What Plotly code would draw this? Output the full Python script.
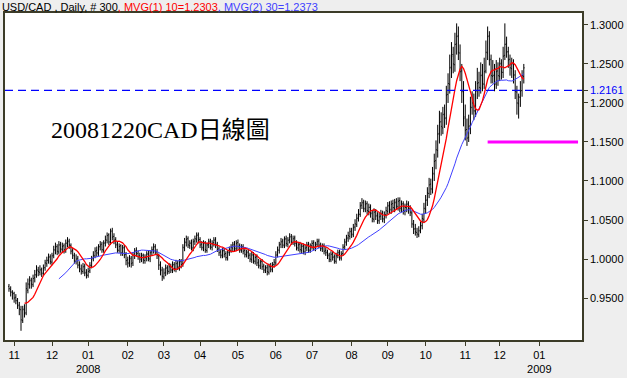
import pandas as pd
import plotly.graph_objects as go

# ---------------- data ----------------
START_DATE = "2007-10-29"          # first daily bar
PAIR = "USD/CAD"
HLINE_LEVEL = 1.2161               # blue dashed reference line
TARGET_LEVEL = 1.15                # magenta target line
TARGET_FROM_BAR = 278              # bar index where magenta line starts
MA_FAST = 10
MA_SLOW = 30
NOTE = "20081220CAD日線圖"
Y_TICKS = [0.95, 1.00, 1.05, 1.10, 1.15, 1.20, 1.25, 1.30]

open_ = [
    0.965, 0.961, 0.957, 0.956, 0.951, 0.946, 0.941, 0.935, 0.921, 0.936,
    0.931, 0.960, 0.967, 0.973, 0.967, 0.976, 0.979, 0.986, 0.983, 0.987,
    0.981, 0.989, 0.994, 0.999, 1.003, 0.996, 1.005, 1.011, 1.016, 1.009,
    1.019, 1.012, 1.017, 1.011, 1.021, 1.023, 1.017, 1.011, 1.004, 0.997,
    1.001, 0.993, 0.987, 0.984, 0.991, 0.983, 0.979, 0.985, 0.991, 1.001,
    1.004, 1.011, 1.007, 1.016, 1.019, 1.011, 1.021, 1.024, 1.031, 1.021,
    1.036, 1.029, 1.025, 1.019, 1.011, 1.017, 1.007, 1.015, 1.006, 0.999,
    0.994, 1.001, 0.995, 1.004, 1.011, 1.007, 1.004, 0.999, 1.005, 0.998,
    1.001, 1.007, 1.000, 1.009, 1.011, 1.016, 1.009, 1.004, 0.993, 0.986,
    0.977, 0.983, 0.989, 0.984, 0.991, 0.985, 0.993, 0.987, 0.995, 0.989,
    0.997, 0.994, 1.014, 1.021, 1.026, 1.017, 1.021, 1.014, 1.023, 1.025,
    1.031, 1.025, 1.019, 1.014, 1.021, 1.011, 1.019, 1.023, 1.015, 1.021,
    1.025, 1.019, 1.013, 1.009, 1.004, 1.011, 1.007, 1.001, 1.009, 1.011,
    1.014, 1.019, 1.013, 1.021, 1.017, 1.011, 1.016, 1.011, 1.005, 1.009,
    1.005, 0.999, 1.006, 0.997, 1.003, 0.996, 0.991, 0.997, 0.991, 0.985,
    0.989, 0.983, 0.991, 0.986, 0.993, 0.995, 1.006, 1.011, 1.019, 1.023,
    1.017, 1.026, 1.019, 1.025, 1.029, 1.021, 1.027, 1.021, 1.014, 1.019,
    1.011, 1.017, 1.009, 1.015, 1.019, 1.011, 1.017, 1.021, 1.014, 1.019,
    1.023, 1.017, 1.013, 1.017, 1.011, 1.009, 1.005, 0.999, 1.007, 1.003,
    0.997, 1.005, 1.009, 1.001, 1.007, 1.016, 1.021, 1.027, 1.029, 1.036,
    1.031, 1.041, 1.044, 1.053, 1.057, 1.069, 1.073, 1.064, 1.071, 1.061,
    1.067, 1.059, 1.051, 1.061, 1.056, 1.049, 1.055, 1.059, 1.051, 1.057,
    1.061, 1.069, 1.063, 1.071, 1.065, 1.073, 1.067, 1.075, 1.064, 1.071,
    1.061, 1.067, 1.071, 1.065, 1.059, 1.044, 1.039, 1.034, 1.031, 1.037,
    1.043, 1.051, 1.064, 1.076, 1.084, 1.096, 1.089, 1.109, 1.126, 1.139,
    1.161, 1.176, 1.168, 1.186, 1.181, 1.211, 1.224, 1.246, 1.262, 1.249,
    1.276, 1.286, 1.264, 1.241, 1.214, 1.182, 1.166, 1.156, 1.171, 1.194,
    1.201, 1.189, 1.216, 1.226, 1.219, 1.236, 1.224, 1.241, 1.264, 1.286,
    1.256, 1.234, 1.236, 1.224, 1.241, 1.234, 1.251, 1.239, 1.261, 1.276,
    1.266, 1.256, 1.244, 1.251, 1.236, 1.214, 1.199, 1.207, 1.216, 1.234,
]
high = [
    0.968, 0.965, 0.960, 0.958, 0.955, 0.950, 0.945, 0.940, 0.940, 0.942,
    0.970, 0.975, 0.978, 0.976, 0.980, 0.986, 0.992, 0.990, 0.992, 0.989,
    0.993, 0.999, 1.003, 1.007, 1.006, 1.008, 1.017, 1.021, 1.019, 1.023,
    1.022, 1.021, 1.020, 1.025, 1.028, 1.026, 1.020, 1.014, 1.008, 1.006,
    1.004, 0.997, 0.993, 0.995, 0.994, 0.987, 0.989, 0.996, 1.004, 1.010,
    1.015, 1.016, 1.019, 1.023, 1.022, 1.024, 1.030, 1.034, 1.033, 1.039,
    1.040, 1.033, 1.028, 1.022, 1.020, 1.019, 1.018, 1.018, 1.009, 1.003,
    1.005, 1.004, 1.009, 1.014, 1.015, 1.011, 1.008, 1.008, 1.007, 1.006,
    1.010, 1.011, 1.011, 1.016, 1.020, 1.019, 1.013, 1.007, 0.997, 0.990,
    0.988, 0.993, 0.992, 0.995, 0.994, 0.997, 0.996, 0.999, 0.998, 1.000,
    1.000, 1.019, 1.027, 1.030, 1.029, 1.024, 1.025, 1.026, 1.030, 1.034,
    1.034, 1.028, 1.023, 1.024, 1.023, 1.021, 1.026, 1.026, 1.024, 1.028,
    1.028, 1.022, 1.016, 1.012, 1.014, 1.014, 1.010, 1.011, 1.016, 1.019,
    1.022, 1.023, 1.024, 1.025, 1.020, 1.019, 1.019, 1.014, 1.012, 1.012,
    1.008, 1.009, 1.009, 1.005, 1.006, 1.000, 0.999, 1.000, 0.994, 0.992,
    0.993, 0.994, 0.995, 0.996, 1.000, 1.010, 1.016, 1.022, 1.027, 1.026,
    1.029, 1.030, 1.028, 1.033, 1.032, 1.030, 1.030, 1.024, 1.022, 1.022,
    1.020, 1.020, 1.018, 1.022, 1.022, 1.020, 1.024, 1.024, 1.022, 1.026,
    1.026, 1.021, 1.020, 1.020, 1.015, 1.012, 1.008, 1.010, 1.010, 1.006,
    1.008, 1.012, 1.012, 1.010, 1.019, 1.026, 1.031, 1.035, 1.040, 1.040,
    1.045, 1.051, 1.058, 1.064, 1.073, 1.078, 1.076, 1.075, 1.074, 1.071,
    1.070, 1.063, 1.065, 1.064, 1.060, 1.059, 1.063, 1.062, 1.061, 1.067,
    1.073, 1.074, 1.075, 1.076, 1.077, 1.078, 1.079, 1.079, 1.075, 1.074,
    1.071, 1.075, 1.074, 1.069, 1.062, 1.050, 1.045, 1.040, 1.042, 1.048,
    1.058, 1.072, 1.082, 1.092, 1.104, 1.103, 1.118, 1.135, 1.152, 1.172,
    1.190, 1.188, 1.195, 1.198, 1.222, 1.238, 1.262, 1.278, 1.272, 1.290,
    1.302, 1.298, 1.275, 1.250, 1.228, 1.198, 1.180, 1.185, 1.208, 1.215,
    1.212, 1.228, 1.245, 1.240, 1.252, 1.250, 1.258, 1.280, 1.298, 1.292,
    1.262, 1.255, 1.250, 1.255, 1.252, 1.258, 1.256, 1.272, 1.302, 1.285,
    1.272, 1.262, 1.258, 1.256, 1.242, 1.222, 1.212, 1.228, 1.242, 1.250,
]
low = [
    0.958, 0.952, 0.948, 0.944, 0.942, 0.936, 0.928, 0.908, 0.918, 0.925,
    0.928, 0.956, 0.962, 0.962, 0.964, 0.970, 0.976, 0.978, 0.979, 0.977,
    0.978, 0.985, 0.990, 0.994, 0.993, 0.992, 1.001, 1.006, 1.005, 1.006,
    1.008, 1.008, 1.007, 1.008, 1.015, 1.013, 1.006, 1.000, 0.994, 0.993,
    0.988, 0.983, 0.980, 0.981, 0.978, 0.975, 0.976, 0.982, 0.988, 0.997,
    1.001, 1.003, 1.004, 1.011, 1.008, 1.008, 1.016, 1.020, 1.018, 1.018,
    1.024, 1.019, 1.014, 1.008, 1.008, 1.004, 1.004, 1.001, 0.992, 0.989,
    0.990, 0.989, 0.991, 1.000, 1.003, 0.999, 0.995, 0.996, 0.994, 0.994,
    0.997, 0.997, 0.996, 1.004, 1.007, 1.006, 1.000, 0.986, 0.979, 0.972,
    0.974, 0.978, 0.980, 0.981, 0.982, 0.982, 0.984, 0.983, 0.986, 0.985,
    0.988, 0.990, 1.010, 1.016, 1.014, 1.013, 1.011, 1.010, 1.018, 1.021,
    1.020, 1.014, 1.011, 1.010, 1.008, 1.008, 1.014, 1.012, 1.011, 1.016,
    1.014, 1.009, 1.004, 1.001, 1.001, 1.002, 0.998, 0.998, 1.004, 1.008,
    1.010, 1.010, 1.010, 1.012, 1.008, 1.008, 1.006, 1.002, 1.002, 1.000,
    0.996, 0.995, 0.994, 0.993, 0.991, 0.988, 0.987, 0.986, 0.982, 0.982,
    0.979, 0.980, 0.983, 0.983, 0.989, 0.992, 1.002, 1.007, 1.014, 1.014,
    1.014, 1.016, 1.015, 1.020, 1.018, 1.018, 1.016, 1.011, 1.010, 1.008,
    1.007, 1.006, 1.005, 1.010, 1.008, 1.008, 1.012, 1.011, 1.010, 1.015,
    1.014, 1.010, 1.009, 1.006, 1.004, 1.000, 0.996, 0.996, 0.998, 0.994,
    0.994, 1.001, 0.998, 0.998, 1.004, 1.012, 1.017, 1.022, 1.025, 1.027,
    1.028, 1.036, 1.041, 1.048, 1.054, 1.064, 1.060, 1.060, 1.057, 1.056,
    1.053, 1.047, 1.047, 1.050, 1.045, 1.045, 1.050, 1.047, 1.046, 1.052,
    1.057, 1.059, 1.058, 1.061, 1.060, 1.063, 1.062, 1.060, 1.060, 1.057,
    1.056, 1.060, 1.058, 1.055, 1.040, 1.032, 1.030, 1.027, 1.028, 1.033,
    1.038, 1.046, 1.058, 1.068, 1.078, 1.082, 1.084, 1.100, 1.115, 1.130,
    1.148, 1.158, 1.160, 1.168, 1.172, 1.200, 1.212, 1.232, 1.238, 1.240,
    1.262, 1.255, 1.228, 1.200, 1.170, 1.152, 1.145, 1.150, 1.160, 1.185,
    1.178, 1.182, 1.205, 1.208, 1.212, 1.215, 1.218, 1.238, 1.255, 1.248,
    1.225, 1.225, 1.215, 1.218, 1.222, 1.228, 1.230, 1.232, 1.255, 1.258,
    1.245, 1.235, 1.232, 1.225, 1.205, 1.185, 1.180, 1.195, 1.208, 1.225,
]
close = [
    0.962, 0.958, 0.955, 0.950, 0.947, 0.940, 0.936, 0.922, 0.935, 0.930,
    0.962, 0.968, 0.972, 0.968, 0.975, 0.980, 0.985, 0.984, 0.986, 0.982,
    0.988, 0.995, 0.998, 1.002, 0.997, 1.004, 1.012, 1.015, 1.010, 1.018,
    1.013, 1.016, 1.012, 1.020, 1.022, 1.018, 1.010, 1.005, 0.998, 1.000,
    0.992, 0.988, 0.985, 0.990, 0.982, 0.980, 0.984, 0.992, 1.000, 1.005,
    1.010, 1.008, 1.015, 1.018, 1.012, 1.020, 1.025, 1.030, 1.022, 1.035,
    1.028, 1.024, 1.018, 1.012, 1.016, 1.008, 1.014, 1.005, 0.998, 0.995,
    1.000, 0.994, 1.005, 1.010, 1.008, 1.003, 1.000, 1.004, 0.999, 1.002,
    1.006, 1.001, 1.008, 1.012, 1.015, 1.010, 1.005, 0.992, 0.985, 0.978,
    0.982, 0.988, 0.985, 0.990, 0.986, 0.992, 0.988, 0.994, 0.990, 0.996,
    0.993, 1.015, 1.022, 1.025, 1.018, 1.020, 1.015, 1.022, 1.026, 1.030,
    1.024, 1.018, 1.015, 1.020, 1.012, 1.018, 1.022, 1.016, 1.020, 1.024,
    1.018, 1.012, 1.008, 1.005, 1.010, 1.006, 1.002, 1.008, 1.012, 1.015,
    1.018, 1.014, 1.020, 1.016, 1.012, 1.015, 1.010, 1.006, 1.008, 1.004,
    1.000, 1.005, 0.998, 1.002, 0.995, 0.992, 0.996, 0.990, 0.986, 0.988,
    0.984, 0.990, 0.987, 0.992, 0.996, 1.005, 1.012, 1.018, 1.022, 1.018,
    1.025, 1.020, 1.024, 1.028, 1.022, 1.026, 1.020, 1.015, 1.018, 1.012,
    1.016, 1.010, 1.014, 1.018, 1.012, 1.016, 1.020, 1.015, 1.018, 1.022,
    1.018, 1.014, 1.016, 1.010, 1.008, 1.004, 1.000, 1.006, 1.002, 0.998,
    1.004, 1.008, 1.002, 1.006, 1.015, 1.022, 1.026, 1.030, 1.035, 1.032,
    1.040, 1.045, 1.052, 1.058, 1.068, 1.072, 1.065, 1.070, 1.062, 1.066,
    1.058, 1.052, 1.060, 1.055, 1.050, 1.054, 1.058, 1.052, 1.056, 1.062,
    1.068, 1.064, 1.070, 1.066, 1.072, 1.068, 1.074, 1.065, 1.070, 1.062,
    1.066, 1.070, 1.064, 1.060, 1.045, 1.038, 1.035, 1.032, 1.036, 1.042,
    1.052, 1.065, 1.075, 1.085, 1.095, 1.090, 1.110, 1.125, 1.140, 1.160,
    1.175, 1.170, 1.185, 1.180, 1.210, 1.225, 1.245, 1.260, 1.250, 1.275,
    1.285, 1.265, 1.240, 1.215, 1.180, 1.165, 1.155, 1.170, 1.195, 1.200,
    1.190, 1.215, 1.225, 1.220, 1.235, 1.225, 1.240, 1.265, 1.285, 1.255,
    1.235, 1.235, 1.225, 1.240, 1.235, 1.250, 1.240, 1.260, 1.275, 1.265,
    1.255, 1.245, 1.250, 1.235, 1.215, 1.200, 1.208, 1.215, 1.235, 1.245,
]

# ---------------- derived ----------------
n = len(close)
bar = list(range(n))
cs = pd.Series(close)
ma_fast = cs.rolling(MA_FAST).mean()
ma_slow = cs.rolling(MA_SLOW).mean()

X_MIN, X_MAX = -2.3, 332.8
calendar = pd.bdate_range(START_DATE, periods=int(X_MAX) + 1)
tickvals, ticktext = [], []
prev = None
for i, d in enumerate(calendar):
    key = (d.year, d.month)
    if prev is not None and key != prev and i <= n + 12:
        tickvals.append(i)
        ticktext.append(f"{d.month:02d}" + (f"<br>{d.year}" if d.month == 1 else ""))
    prev = key

y_vals = Y_TICKS + [HLINE_LEVEL]
y_text = [f"{v:.4f}" for v in Y_TICKS] + [f"<span style='color:#0000ff'>{HLINE_LEVEL:.4f}</span>"]

AXIS_COLOR = "#3c3c28"
FONT = "Arial, Liberation Sans, sans-serif"

fig = go.Figure()
fig.add_trace(go.Ohlc(
    x=bar, open=open_, high=high, low=low, close=close,
    increasing=dict(line=dict(color="black", width=1)),
    decreasing=dict(line=dict(color="black", width=1)),
    tickwidth=0.45, hoverinfo="skip", showlegend=False,
))
fig.add_trace(go.Scatter(x=bar, y=ma_slow, mode="lines",
                         line=dict(color="#4040ff", width=1),
                         hoverinfo="skip", showlegend=False))
fig.add_trace(go.Scatter(x=bar, y=ma_fast, mode="lines",
                         line=dict(color="#ff0000", width=1.3),
                         hoverinfo="skip", showlegend=False))

fig.add_shape(type="line", xref="paper", x0=0, x1=1, y0=HLINE_LEVEL, y1=HLINE_LEVEL,
              line=dict(color="#0000ff", width=1.3, dash="8px,5px"))
fig.add_shape(type="line", x0=TARGET_FROM_BAR, x1=X_MAX - 2.3, y0=TARGET_LEVEL, y1=TARGET_LEVEL,
              line=dict(color="#ff00ff", width=3))

fig.add_annotation(text=NOTE, xref="paper", yref="paper", x=0.077, y=0.641,
                   xanchor="left", yanchor="middle", showarrow=False,
                   font=dict(family="Liberation Serif, Noto Sans CJK TC, serif", size=24, color="black"))

title = (f"{PAIR} , Daily, # {n}"
         f"<span style='color:#ff0000'>, MVG(1) {MA_FAST}={ma_fast.iloc[-1]:.4f}</span>"
         f"<span style='color:#4040ff'>, MVG(2) {MA_SLOW}={ma_slow.iloc[-1]:.4f}</span>")

fig.update_layout(
    width=627, height=378,
    margin=dict(l=3, r=41, t=13, b=36),
    paper_bgcolor="#eeeeee", plot_bgcolor="white",
    title=dict(text=title, x=0.003, xanchor="left", y=1 - 7 / 378, yanchor="middle",
               yref="container", font=dict(family=FONT, size=11, color="black")),
    font=dict(family=FONT, size=11, color="black"),
    showlegend=False,
    xaxis=dict(range=[X_MIN, X_MAX], tickvals=tickvals, ticktext=ticktext,
               ticks="outside", ticklen=4, tickcolor=AXIS_COLOR,
               showline=True, linecolor=AXIS_COLOR, linewidth=1.5, mirror=True,
               showgrid=False, zeroline=False, rangeslider=dict(visible=False),
               tickfont=dict(size=11)),
    yaxis=dict(range=[0.8962, 1.3153], side="right", tickvals=y_vals, ticktext=y_text,
               ticks="outside", ticklen=4, tickcolor=AXIS_COLOR,
               showline=True, linecolor=AXIS_COLOR, linewidth=1.5, mirror=True,
               showgrid=False, zeroline=False, tickfont=dict(size=11)),
)

fig.write_html("out.html",
               config={"displayModeBar": False},
               post_script="document.body.style.margin='0px';document.body.style.background='#eeeeee';")
